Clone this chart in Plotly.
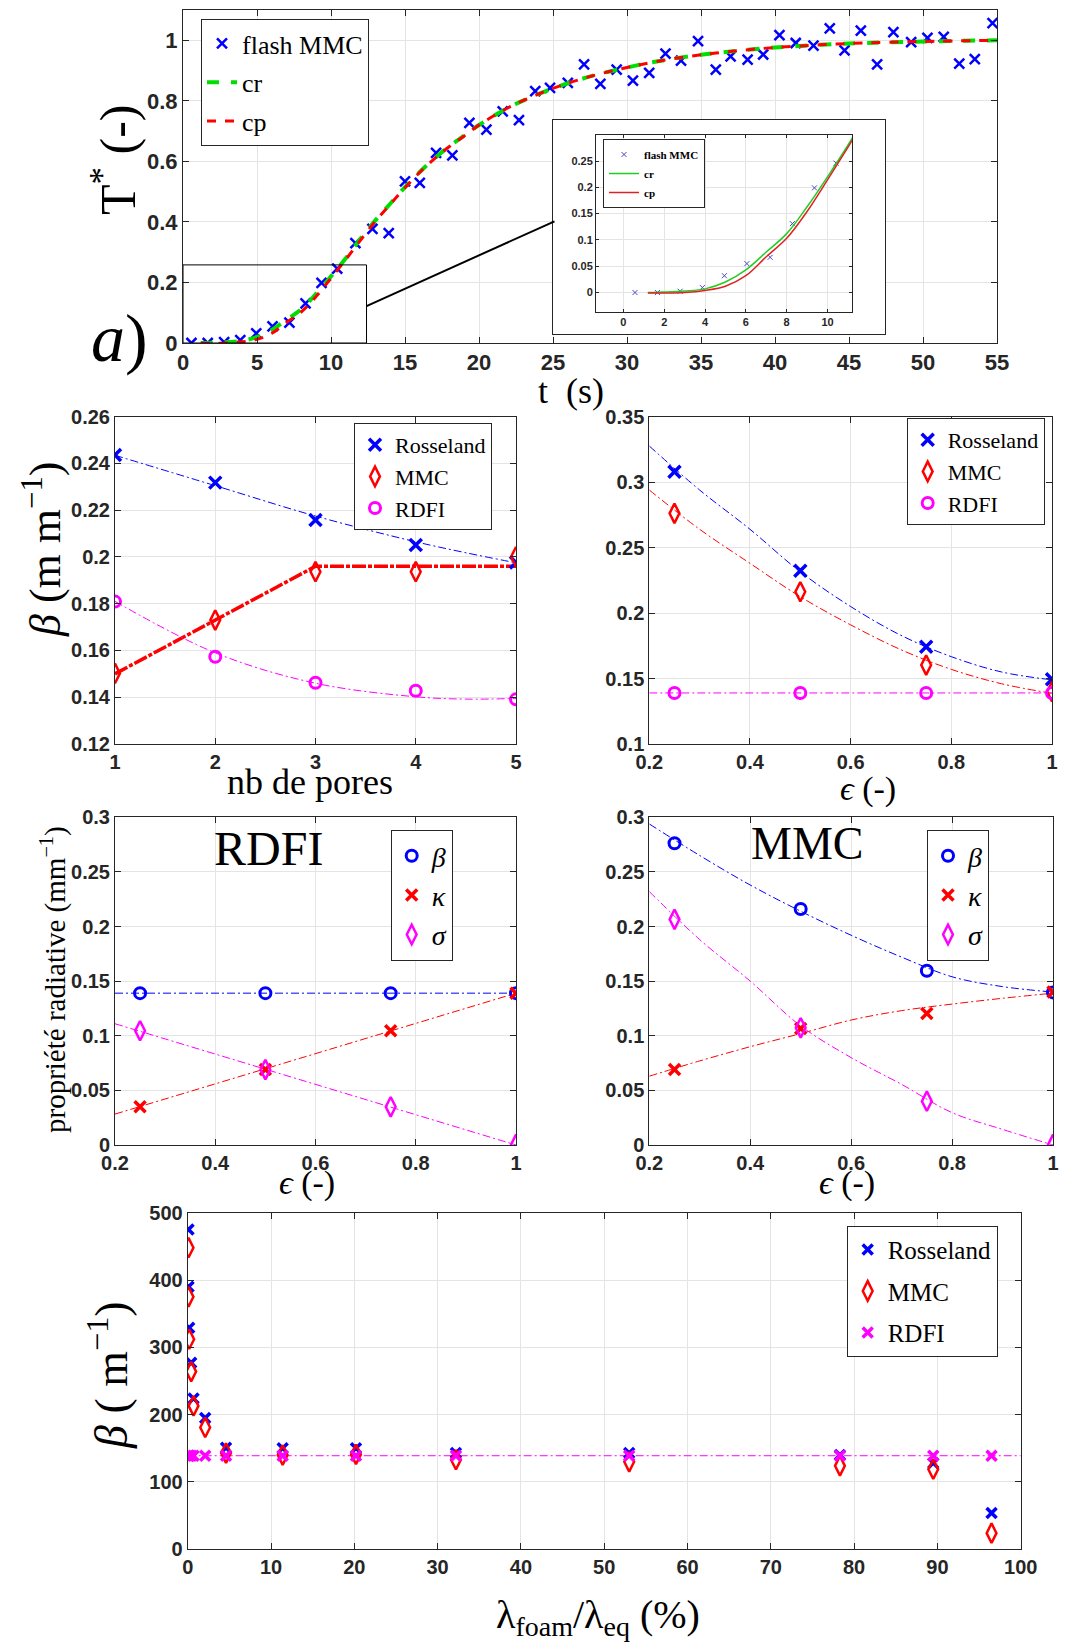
import plotly.graph_objects as go

W, H = 1077, 1644
OFF = 8  # page body margin in the browser

# ---------------- data ----------------
# panel a) : flash experiment and models
flash_t = [0.57, 1.67, 2.78, 3.87, 4.95, 6.05, 7.19, 8.28, 9.36, 10.42, 11.65, 12.8, 13.9, 15.0, 16.0,
           17.1, 18.2, 19.35, 20.5, 21.6, 22.7, 23.8, 24.8, 26.0, 27.1, 28.2, 29.3, 30.4, 31.5, 32.6,
           33.65, 34.8, 36.0, 37.0, 38.15, 39.2, 40.3, 41.4, 42.6, 43.7, 44.7, 45.8, 46.9, 48.0, 49.2,
           50.3, 51.4, 52.45, 53.5, 54.7]
flash_T = [0.0, 0.0, 0.0025, 0.0095, 0.032, 0.055, 0.067, 0.131, 0.199, 0.246, 0.33, 0.377, 0.363, 0.534, 0.529,
           0.628, 0.62, 0.727, 0.705, 0.765, 0.736, 0.832, 0.843, 0.859, 0.92, 0.856, 0.903, 0.867, 0.892, 0.956,
           0.933, 0.997, 0.903, 0.947, 0.936, 0.953, 1.017, 0.991, 0.982, 1.039, 0.967, 1.032, 0.92, 1.027, 0.994,
           1.008, 1.011, 0.923, 0.938, 1.057]
curve_t = [1.2, 2, 3, 4, 5, 6, 7, 8, 9, 10, 11, 12, 13, 14, 15, 16, 17, 18, 19, 20, 22, 24, 26, 28, 30, 32,
           35, 38, 40, 43, 46, 50, 55]
cr_T = [0.0, 0.001, 0.003, 0.007, 0.02, 0.043, 0.077, 0.112, 0.163, 0.22, 0.28, 0.345, 0.405, 0.46, 0.515,
        0.565, 0.61, 0.65, 0.685, 0.72, 0.778, 0.822, 0.858, 0.887, 0.91, 0.93, 0.952, 0.968, 0.976, 0.985,
        0.991, 0.996, 1.0]
cp_T = [-0.001, -0.001, 0.0, 0.004, 0.012, 0.032, 0.068, 0.103, 0.154, 0.214, 0.276, 0.34, 0.402, 0.458, 0.513,
        0.564, 0.609, 0.649, 0.684, 0.72, 0.778, 0.822, 0.858, 0.887, 0.91, 0.93, 0.952, 0.968, 0.976, 0.985,
        0.991, 0.996, 1.0]

# beta vs number of pores
nb_pores = [1, 2, 3, 4, 5]
ros_pores = [0.2436, 0.2318, 0.2158, 0.2051, 0.1976]
mmc_pores = [0.1502, 0.1730, 0.1937, 0.1937, 0.2001]
rdfi_pores = [0.1809, 0.1573, 0.1462, 0.1428, 0.1391]
fit_pores_x = [1, 2, 3, 4, 4.5, 5]
ros_pores_fit = [0.2435, 0.2305, 0.2175, 0.2065, 0.2018, 0.1975]
rdfi_pores_fit = [0.181, 0.159, 0.146, 0.1402, 0.1392, 0.1395]
mmc_line_x = [1, 2, 3, 4, 5]
mmc_line_y = [0.150, 0.173, 0.196, 0.196, 0.196]

# beta vs porosity
eps = [0.25, 0.5, 0.75, 1.0]
ros_eps = [0.308, 0.2324, 0.1743, 0.1494]
mmc_eps = [0.2762, 0.2163, 0.1603, 0.140]
rdfi_eps = [0.139, 0.139, 0.139, 0.139]
fit_eps_x = [0.2, 0.3, 0.4, 0.5, 0.6, 0.7, 0.8, 0.9, 1.0]
ros_eps_fit = [0.3276, 0.294, 0.264, 0.2315, 0.205, 0.183, 0.1667, 0.155, 0.149]
mmc_eps_fit = [0.294, 0.264, 0.238, 0.2125, 0.191, 0.172, 0.157, 0.146, 0.1387]
rdfi_eps_fit = [0.139] * 9

# RDFI radiative properties
rdfi_beta = [0.139, 0.139, 0.139, 0.139]
rdfi_kappa = [0.035, 0.0692, 0.1046, 0.139]
rdfi_sigma = [0.1046, 0.069, 0.035, 0.0005]
line_x = [0.2, 1.0]
rdfi_beta_fit = [0.139, 0.139]
rdfi_kappa_fit = [0.0283, 0.139]
rdfi_sigma_fit = [0.111, 0.0]

# MMC radiative properties
mmc_beta = [0.2762, 0.216, 0.1595, 0.1397]
mmc_kappa = [0.0692, 0.1067, 0.1204, 0.140]
mmc_sigma = [0.2066, 0.1073, 0.0401, 0.0005]
mmc_beta_fit = [0.2939, 0.265, 0.238, 0.214, 0.192, 0.172, 0.154, 0.145, 0.140]
mmc_kappa_fit = [0.063, 0.077, 0.090, 0.102, 0.1144, 0.123, 0.129, 0.1343, 0.139]
mmc_sigma_fit = [0.232, 0.188, 0.150, 0.109, 0.080, 0.0555, 0.0296, 0.0143, 0.0]

# beta vs conductivity ratio
lam_ratio = [0.1, 0.1, 0.18, 0.42, 0.7, 2.1, 4.6, 11.4, 20.2, 32.2, 53.0, 78.3, 89.5, 96.5]
ros_lam = [475, 390, 329, 277, 224, 195, 151, 150, 150, 143, 143, 140, 128, 54]
mmc_lam = [448, 375, 312, 264, 213, 181, 143, 140, 141, 133, 130, 124, 119, 24]
rdfi_lam = [139, 139, 139, 139, 139, 139, 139, 139, 139, 139, 139, 139, 139, 139]
rdfi_lam_line_x = [0, 100]
rdfi_lam_line_y = [139, 139]

# ---------------- styling helpers ----------------
BLUE, RED, MAG, GREEN = "#0000ff", "#ff0000", "#ff00ff", "#00dd00"
AXC = "#262626"
GRID = "#e4e4e4"
SERIF = "Liberation Serif"
SANS = "Liberation Sans"


def px_x(p):
    return (p - OFF) / W


def px_y(p):
    return 1 - (p - OFF) / H


fig = go.Figure()


def axis(domain, rng, tickvals, ticktext, size=20, grid=True):
    return dict(domain=domain, range=rng, tickvals=tickvals, ticktext=ticktext, automargin=False,
                showgrid=grid, gridcolor=GRID, gridwidth=1, zeroline=False,
                showline=True, linecolor=AXC, linewidth=1, mirror="ticks",
                ticks="inside", ticklen=6, tickcolor=AXC,
                tickfont=dict(family=SANS, size=size, color=AXC, weight="bold"))


def fmt(v):
    s = ("%.2f" % v).rstrip("0").rstrip(".")
    return s


def ticks(start, stop, step):
    n = int(round((stop - start) / step))
    vals = [round(start + i * step, 6) for i in range(n + 1)]
    return vals, [fmt(v) for v in vals]


layout = {}

# subplot 1 : main flash
tv, tt = ticks(0, 55, 5)
layout["xaxis"] = axis([px_x(183), px_x(997)], [0, 55], tv, tt, 22)
layout["xaxis"]["anchor"] = "y"
tv, tt = ticks(0, 1, 0.2)
layout["yaxis"] = axis([px_y(343), px_y(10)], [0, 1.1], tv, tt, 22)
layout["yaxis"]["anchor"] = "x"

# subplot 2 : inset frame (white box)
layout["xaxis2"] = dict(domain=[px_x(553), px_x(885)], range=[0, 1], showgrid=False, zeroline=False,
                        showticklabels=False, ticks="", showline=True, mirror=True, linecolor=AXC,
                        linewidth=1, anchor="y2", automargin=False)
layout["yaxis2"] = dict(domain=[px_y(334), px_y(120)], range=[0, 1], showgrid=False, zeroline=False,
                        showticklabels=False, ticks="", showline=True, mirror=True, linecolor=AXC,
                        linewidth=1, anchor="x2", automargin=False)

# subplot 3 : inset
tv, tt = ticks(0, 10, 2)
layout["xaxis3"] = axis([px_x(596), px_x(852)], [-1.34, 11.2], tv, tt, 11)
layout["xaxis3"].update(anchor="y3", ticklen=3)
tv, tt = ticks(0, 0.25, 0.05)
layout["yaxis3"] = axis([px_y(312), px_y(135)], [-0.037, 0.2995], tv, tt, 11)
layout["yaxis3"].update(anchor="x3", ticklen=3)

# subplot 4 : beta vs pores
tv, tt = ticks(1, 5, 1)
layout["xaxis4"] = axis([px_x(115), px_x(516)], [1, 5], tv, tt)
layout["xaxis4"]["anchor"] = "y4"
tv, tt = ticks(0.12, 0.26, 0.02)
layout["yaxis4"] = axis([px_y(744), px_y(416.7)], [0.12, 0.26], tv, tt)
layout["yaxis4"]["anchor"] = "x4"

# subplot 5 : beta vs eps
tv, tt = ticks(0.2, 1.0, 0.2)
layout["xaxis5"] = axis([px_x(649.3), px_x(1052)], [0.2, 1.0], tv, tt)
layout["xaxis5"]["anchor"] = "y5"
tv, tt = ticks(0.1, 0.35, 0.05)
layout["yaxis5"] = axis([px_y(744), px_y(416.7)], [0.1, 0.35], tv, tt)
layout["yaxis5"]["anchor"] = "x5"

# subplot 6 : RDFI properties
tv, tt = ticks(0.2, 1.0, 0.2)
layout["xaxis6"] = axis([px_x(115), px_x(516)], [0.2, 1.0], tv, tt)
layout["xaxis6"]["anchor"] = "y6"
tv, tt = ticks(0, 0.3, 0.05)
layout["yaxis6"] = axis([px_y(1145), px_y(817.3)], [0, 0.3], tv, tt)
layout["yaxis6"]["anchor"] = "x6"

# subplot 7 : MMC properties
tv, tt = ticks(0.2, 1.0, 0.2)
layout["xaxis7"] = axis([px_x(649.3), px_x(1053)], [0.2, 1.0], tv, tt)
layout["xaxis7"]["anchor"] = "y7"
tv, tt = ticks(0, 0.3, 0.05)
layout["yaxis7"] = axis([px_y(1145), px_y(817.3)], [0, 0.3], tv, tt)
layout["yaxis7"]["anchor"] = "x7"

# subplot 8 : beta vs conductivity ratio
tv, tt = ticks(0, 100, 10)
layout["xaxis8"] = axis([px_x(187.7), px_x(1020.7)], [0, 100], tv, tt)
layout["xaxis8"]["anchor"] = "y8"
tv, tt = ticks(0, 500, 100)
layout["yaxis8"] = axis([px_y(1549.3), px_y(1212.7)], [0, 500], tv, tt)
layout["yaxis8"]["anchor"] = "x8"

# ---------------- traces ----------------
def mk(x, y, name, sym, color, size, lw, xa, ya, leg, show=True, group=None):
    fig.add_trace(go.Scatter(x=x, y=y, mode="markers", name=name, xaxis=xa, yaxis=ya, legend=leg,
                             showlegend=show, legendgroup=group or (leg + name),
                             marker=dict(symbol=sym, size=size, color=color,
                                         line=dict(color=color, width=lw))))


def ln(x, y, color, width, dash, xa, ya, name=None, leg=None, show=False, shape="linear"):
    fig.add_trace(go.Scatter(x=x, y=y, mode="lines", name=name, xaxis=xa, yaxis=ya,
                             legend=leg or "legend", showlegend=show, legendgroup=(leg or "") + str(name),
                             line=dict(color=color, width=width, dash=dash, shape=shape)))


DASHDOT = "8px,3px,2px,3px"

# main flash
mk(flash_t, flash_T, "flash MMC", "x-thin-open", BLUE, 10, 2.5, "x", "y", "legend")
ln(curve_t, cr_T, GREEN, 4, "dash", "x", "y", "cr", "legend", True, "spline")
ln(curve_t, cp_T, RED, 3, "dash", "x", "y", "cp", "legend", True, "spline")

# invisible trace for frame subplot
fig.add_trace(go.Scatter(x=[0.5], y=[0.5], mode="markers", marker=dict(opacity=0), xaxis="x2", yaxis="y2",
                         showlegend=False, hoverinfo="skip"))

# inset
mk(flash_t, flash_T, "flash MMC", "x-thin-open", "#4848c8", 5, 1, "x3", "y3", "legend2")
ln(curve_t, cr_T, "#22cc22", 1.5, "solid", "x3", "y3", "cr", "legend2", True, "spline")
ln(curve_t, cp_T, "#dd2222", 1.5, "solid", "x3", "y3", "cp", "legend2", True, "spline")

# beta vs pores
ln(fit_pores_x, ros_pores_fit, BLUE, 1, DASHDOT, "x4", "y4", shape="spline")
ln(mmc_line_x, mmc_line_y, RED, 3.5, "14px,2px,4px,2px", "x4", "y4")
ln(fit_pores_x, rdfi_pores_fit, MAG, 1, DASHDOT, "x4", "y4", shape="spline")
mk(nb_pores, ros_pores, "Rosseland", "x-thin-open", BLUE, 12, 3.5, "x4", "y4", "legend3")
mk(nb_pores, mmc_pores, "MMC", "diamond-tall-open", RED, 14, 2.5, "x4", "y4", "legend3")
mk(nb_pores, rdfi_pores, "RDFI", "circle-open", MAG, 11, 3, "x4", "y4", "legend3")

# beta vs eps
ln(fit_eps_x, ros_eps_fit, BLUE, 1, DASHDOT, "x5", "y5", shape="spline")
ln(fit_eps_x, mmc_eps_fit, RED, 1, DASHDOT, "x5", "y5", shape="spline")
ln(fit_eps_x, rdfi_eps_fit, MAG, 1, DASHDOT, "x5", "y5")
mk(eps, ros_eps, "Rosseland", "x-thin-open", BLUE, 12, 3.5, "x5", "y5", "legend4")
mk(eps, mmc_eps, "MMC", "diamond-tall-open", RED, 14, 2.5, "x5", "y5", "legend4")
mk(eps, rdfi_eps, "RDFI", "circle-open", MAG, 11, 3, "x5", "y5", "legend4")

# RDFI properties
ln(line_x, rdfi_beta_fit, BLUE, 1, DASHDOT, "x6", "y6")
ln(line_x, rdfi_kappa_fit, RED, 1, DASHDOT, "x6", "y6")
ln(line_x, rdfi_sigma_fit, MAG, 1, DASHDOT, "x6", "y6")
mk(eps, rdfi_beta, "<i>β</i>", "circle-open", BLUE, 11, 3, "x6", "y6", "legend5")
mk(eps, rdfi_kappa, "<i>κ</i>", "x-thin-open", RED, 11, 3.5, "x6", "y6", "legend5")
mk(eps, rdfi_sigma, "<i>σ</i>", "diamond-tall-open", MAG, 14, 2.5, "x6", "y6", "legend5")

# MMC properties
ln(fit_eps_x, mmc_beta_fit, BLUE, 1, DASHDOT, "x7", "y7", shape="spline")
ln(fit_eps_x, mmc_kappa_fit, RED, 1, DASHDOT, "x7", "y7", shape="spline")
ln(fit_eps_x, mmc_sigma_fit, MAG, 1, DASHDOT, "x7", "y7", shape="spline")
mk(eps, mmc_beta, "<i>β</i>", "circle-open", BLUE, 11, 3, "x7", "y7", "legend6")
mk(eps, mmc_kappa, "<i>κ</i>", "x-thin-open", RED, 11, 3.5, "x7", "y7", "legend6")
mk(eps, mmc_sigma, "<i>σ</i>", "diamond-tall-open", MAG, 14, 2.5, "x7", "y7", "legend6")

# beta vs conductivity ratio
ln(rdfi_lam_line_x, rdfi_lam_line_y, MAG, 1, DASHDOT, "x8", "y8")
mk(lam_ratio, ros_lam, "Rosseland", "x-thin-open", BLUE, 10, 3.5, "x8", "y8", "legend7")
mk(lam_ratio, mmc_lam, "MMC", "diamond-tall-open", RED, 14, 2.5, "x8", "y8", "legend7")
mk(lam_ratio, rdfi_lam, "RDFI", "x-thin-open", MAG, 10, 3.5, "x8", "y8", "legend7")

# ---------------- legends ----------------
def legend(xp, yp, size, gap, bold=False):
    return dict(x=px_x(xp), y=px_y(yp), xanchor="left", yanchor="top", bgcolor="white",
                bordercolor=AXC, borderwidth=1, tracegroupgap=gap, itemwidth=30,
                font=dict(family=SERIF, size=size, color="black", weight="bold" if bold else "normal"))


layout["legend"] = legend(201, 19, 26, 2)
layout["legend2"] = legend(603, 139, 11, 0, bold=True)
layout["legend3"] = legend(354, 423, 22, 0)
layout["legend4"] = legend(906.7, 418, 22, 0)
layout["legend5"] = legend(390.7, 830, 28, 0)
layout["legend6"] = legend(927, 830, 28, 0)
layout["legend7"] = legend(846.7, 1225.7, 25, 6)

# ---------------- annotations ----------------
def ann(text, xp, yp, size, angle=0, family=SERIF):
    return dict(text=text, x=px_x(xp), y=px_y(yp), xref="paper", yref="paper", showarrow=False,
                textangle=angle, xanchor="center", yanchor="middle",
                font=dict(family=family, size=size, color="black"))


annotations = [
    ann("T<sup>*</sup> (-)", 114, 160, 50, -90),
    ann("t  (s)", 571, 391, 36),
    ann("<i>a</i>)", 120, 338, 68),
    ann("<i>β</i> (m m<sup>−1</sup>)", 42, 550, 44, -90),
    ann("nb de pores", 310, 782, 36),
    ann("<i>ϵ</i> (-)", 868, 789, 34),
    ann("propriété radiative (mm<sup>−1</sup>)", 53, 980, 29, -90),
    ann("<i>ϵ</i> (-)", 307, 1183, 34),
    ann("<i>ϵ</i> (-)", 847, 1183, 34),
    ann("RDFI", 268, 848, 48),
    ann("MMC", 807, 843, 46),
    ann("<i>β</i> ( m<sup>−1</sup>)", 108, 1375, 46, -90),
    ann("λ<sub>foam</sub>/λ<sub>eq</sub> (%)", 598, 1617, 40),
]

# zoom rectangle and connector on the main panel
shapes = [
    dict(type="rect", xref="x", yref="y", x0=0, x1=12.4, y0=0, y1=0.258,
         line=dict(color="black", width=1), layer="above"),
    dict(type="line", xref="x", yref="y", x0=12.4, y0=0.122, x1=25.1, y1=0.402,
         line=dict(color="black", width=2), layer="above"),
]

layout.update(dict(width=W, height=H, margin=dict(l=0, r=0, t=0, b=0, pad=0, autoexpand=False),
                   paper_bgcolor="white", plot_bgcolor="white",
                   annotations=annotations, shapes=shapes))
fig.update_layout(**layout)

fig.write_html("out.html", config={"displayModeBar": False})
